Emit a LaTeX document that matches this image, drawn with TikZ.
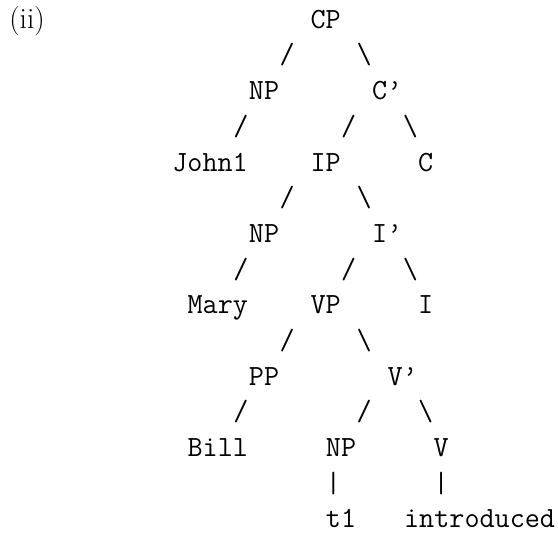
\documentclass[tikz,border=0pt]{standalone}
\begin{document}
\begin{tikzpicture}[x=15.4pt, y=-35.69pt]

        \useasboundingbox (-12.143,-0.793) rectangle (24.091,14.253);

        \node[anchor=base west, inner sep=0pt, font=\fontsize{29.3}{35}\selectfont] (ii) at (-11.55,0) {(ii)};

        \begin{scope}[every node/.style={anchor=base, inner sep=0pt, font=\ttfamily\fontsize{29.3}{35}\selectfont}]
          \node (cp)    at (9,0)    {CP};
          \node (np1)   at (5,2)    {NP};
          \node (cbar)  at (13,2)   {C’};
          \node (john)  at (1.5,4)  {John1};
          \node (ip)    at (9,4)    {IP};
          \node (c)     at (15.5,4) {C};
          \node (np2)   at (5,6)    {NP};
          \node (ibar)  at (13,6)   {I’};
          \node (mary)  at (2,8)    {Mary};
          \node (vp)    at (9,8)    {VP};
          \node (i)     at (15.5,8) {I};
          \node (pp)    at (5,10)   {PP};
          \node (vbar)  at (14,10)  {V’};
          \node (bill)  at (2,12)   {Bill};
          \node (np3)   at (10,12)  {NP};
          \node (v)     at (16.5,12) {V};
          \node (t)     at (10,14)  {t1};
          \node (intro) at (19,14)  {introduced};

          \path (cp)   -- (np1)   node[at={(6.5,1)}]   {/};
          \path (cp)   -- (cbar)  node[at={(11.5,1)}]  {\textbackslash};
          \path (np1)  -- (john)  node[at={(3.5,3)}]   {/};
          \path (cbar) -- (ip)    node[at={(10.5,3)}]  {/};
          \path (cbar) -- (c)     node[at={(14.5,3)}]  {\textbackslash};
          \path (ip)   -- (np2)   node[at={(6.5,5)}]   {/};
          \path (ip)   -- (ibar)  node[at={(11.5,5)}]  {\textbackslash};
          \path (np2)  -- (mary)  node[at={(3.5,7)}]   {/};
          \path (ibar) -- (vp)    node[at={(10.5,7)}]  {/};
          \path (ibar) -- (i)     node[at={(14.5,7)}]  {\textbackslash};
          \path (vp)   -- (pp)    node[at={(6.5,9)}]   {/};
          \path (vp)   -- (vbar)  node[at={(11.5,9)}]  {\textbackslash};
          \path (pp)   -- (bill)  node[at={(3.5,11)}]  {/};
          \path (vbar) -- (np3)   node[at={(11.5,11)}] {/};
          \path (vbar) -- (v)     node[at={(15.5,11)}] {\textbackslash};
          \path (np3)  -- (t)     node[at={(9.5,13)}]  {|};
          \path (v)    -- (intro) node[at={(16.5,13)}] {|};
        \end{scope}

      \end{tikzpicture}
\end{document}
